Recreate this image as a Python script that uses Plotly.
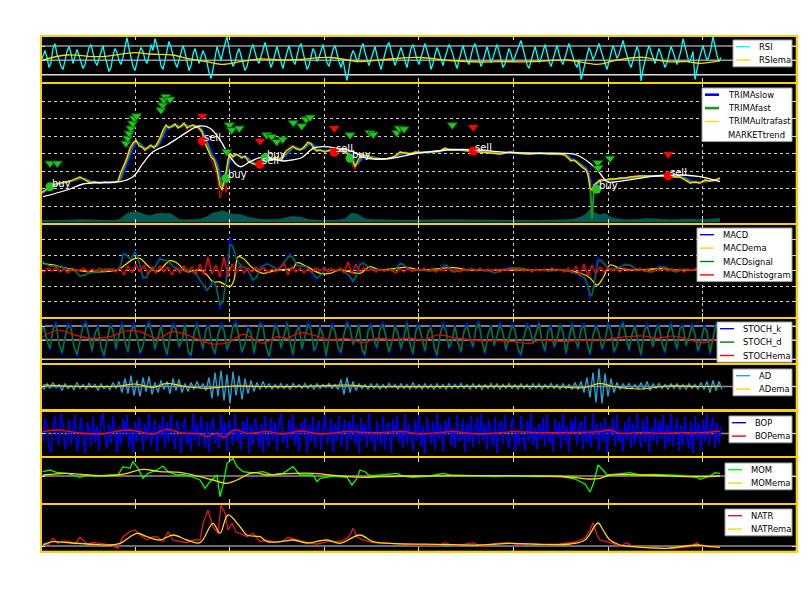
import plotly.graph_objects as go

W, H = 812, 612

# ======================= DATA =======================
# x = sample position (bar index), y = each panel's own (unlabelled) units

# ---- price panel ----
PRICE_X = [1,5,10,15,20,25,30,35,40,45,
           50,55,60,65,70,75,78,81,84,87,
           90,93,96,99,102,105,108,111,114,117,
           120,123,126,129,132,135,138,141,144,147,
           150,153,156,159,162,165,168,171,174,177,
           180,182,184,186,188,190,193,196,199,202,
           205,208,211,214,217,220,223,226,230,234,
           238,242,246,250,253,256,260,264,268,271,
           274,277,280,285,290,295,300,305,310,313,
           315,318,322,326,330,335,340,345,350,355,
           360,365,370,375,380,390,400,405,410,420,
           430,440,450,460,470,480,490,500,510,520,
           525,528,531,534,537,540,543,546,548,550,
           552,554,557,560,565,570,575,580,585,590,
           600,610,620,628,635,640,645,650,655,660,
           665,670,675,680]
TRIMA_ULTRAFAST = [29.5,32.5,35.8,38.5,39.5,40.5,41.5,43.5,45.5,42.5,
                   39.8,40.5,39.5,40.5,40,40.5,41.5,50.5,57.5,64.5,
                   74.5,79.5,82.5,76.5,75.5,72.5,75.5,77.5,74.5,78.5,
                   84.5,92.5,97.5,94.5,96.5,98.5,94.5,96.5,99.5,94.5,
                   96.5,97.5,95.5,94.5,90.5,79.5,72.5,65.5,62.5,52.5,
                   36.5,32.5,42.5,50.5,62.5,69.5,65.5,68.5,66.5,64.5,
                   66.5,61.5,59.5,58.5,57.5,59.5,62.5,65.5,62.5,64.5,
                   62.5,65.5,71.5,74.5,76.5,73.5,72.5,75.5,80.5,78.5,
                   73.5,71.5,72.5,70.5,72.5,70.5,71.5,70.5,66.5,60.5,
                   55.5,62.5,68.5,66.5,65.5,63.5,63.5,63.5,64.5,66.5,
                   70.5,69.5,68.5,70.5,70,70.5,71.5,74.5,72.5,72.5,
                   71.5,70.5,69.5,68.5,70.5,69,68.5,69.5,68.5,68.5,
                   67.5,64.5,61.5,62.5,59.5,57.5,54.5,52.5,47.5,34.5,
                   32.5,37.5,40.5,42.5,42.5,43.5,43.5,44.5,44.5,45.5,
                   46.5,46.5,46.5,46.5,45.5,45.5,42.5,39.5,40.5,39.5,
                   42.5,41.5,42.5,44.5]
TRIMA_FAST = [29,31.5,34.5,37.5,39,40,41,42.5,44.5,43.5,
              41,40,40,40,40.2,40.2,41,45,54,61,
              69.5,77,81,79.5,76,74,74,76.5,76,76.5,
              81.5,88.5,95,96,95.5,97.5,96.5,95.5,98,96.5,
              95.5,97,96.5,95,92.5,85,76,69,64,57.5,
              44.5,36,38,46.5,56.5,66,67.5,67,67.5,65.5,
              65.5,64,60.5,59,58,58.5,61,64,64,63.5,
              63.5,64,68.5,73,75.5,75,73,74,78,79.5,
              76,72.5,72,71.5,71.5,71.5,71,71,68.5,63.5,
              58,59,65.5,67.5,66,64.5,63.5,63.5,64,65.5,
              68.5,70,69,69.5,70,70.2,71,73,73.5,72.5,
              72,71,70,69,70,69.5,68.8,69,68.8,68.5,
              68,66,63,62,61,58.5,56,53.5,50,41,
              3,35,39,41.5,42.5,43,43.5,44,44.5,45,
              46,46.5,46.5,46.5,46,45.5,44,41,40,40,
              41,42,42,43.5]
TRIMA_SLOW = [28.5,30.5,33.5,36.5,38.5,39.5,40.5,42,43.5,44,
              42,40.5,40,40,40,40.2,40.8,43,50,57,
              65,73,78.5,80,77.5,75,74,75.5,76,76,
              79,85,91.5,95,95.5,96.5,97,96,97,97,
              96,96.5,96.5,95.5,93.5,88,80,72.5,66.5,61,
              50,41,37,42,51,61,66.5,67.5,67.5,66.5,
              65.5,65,62,60,58.5,58.5,60,62.5,64,63.5,
              63.5,63.5,66,71,74.5,75.5,74,74,76.5,79,
              77.5,74,72.5,72,71.5,71.5,71,71,69.5,65.5,
              61,59,62.5,66.5,66.5,65,64,63.5,63.8,65,
              67.5,69.5,69.2,69.3,69.8,70,70.8,72.5,73.5,73,
              72.3,71.2,70.3,69.4,69.8,69.5,69,69,68.9,68.6,
              68.2,67,64.5,63,61.5,59.5,57,55,52.5,46,
              38,35,37,40,42,42.8,43.3,43.8,44.3,44.8,
              45.6,46.3,46.5,46.5,46.2,45.8,44.8,42.5,41,40.3,
              40.6,41.5,41.8,43]
CLOSE = [30,33,35,39,39,41,41,44,46,42,
         39,41,39,41,40,40,42,52,58,66,
         76,80,83,76,75,71,76,78,74,80,
         86,93,98,93,97,99,94,97,100,93,
         97,98,95,93,90,77,72,64,56,48,
         24.5,31,44,29.8,64,70,64,69,66,64,
         67,61,59,58,57,60,63,66,62,65,
         62,66,72,75,77,73,73,76,81,78,
         73,71,73,70,73,70,72,70,66,55,
         53,63,69,66,65,63,64,63,65,67,
         71,69,68,71,70,71,72,75,72,73,
         71,70,70,68,71,69,68,70,68,69,
         67,64,61,63,59,57,54,52,46,31,
         31,38,41,43,42,44,43,45,44,46,
         47,46,47,46,45,46,42,39,41,39,
         43,41,43,45]
TREND_X = [3,27,43,60,80,93,103,113,127,140,153,160,170,180,190,200,210,220,228,243,
           252,262,273,283,297,313,327,340,357,373,390,407,423,440,457,473,500,523,537,550,
           560,567,577,593,610,627,643,660,680]
MARKET_TREND = [25.8,32.5,38.5,39.8,40.8,45.8,59.2,70.8,77.5,85.8,94.2,96.5,94.2,82.5,65.8,55.8,60.8,64.8,64.2,61.5,
                62.5,65,74.2,75.8,74.2,70.8,64.2,63.5,65.2,68.5,70.8,72.5,73.2,72.5,70.8,69.8,69.2,69.2,67.5,59.2,
                49.2,40.8,40.8,43.2,45.8,47.5,47.5,45.8,40.8]
VOL_X = [1,20,40,60,78,82,87,93,98,105,110,115,120,125,130,135,140,150,160,167,
         172,177,182,188,193,200,210,220,230,240,250,260,270,290,305,312,318,325,340,360,
         410,460,510,535,545,550,555,560,565,572,590,610,630,650,665,680]
VOLUME = [2.5,2.2,3,2.5,2.8,5,9,10.8,10.5,8,7,8.5,9.5,9,9.2,6,3.2,3,3.5,6,
          9.2,10.5,11.8,10,8.5,8,5,3.5,3.2,3.5,5.8,5.5,3,2.5,4,9.5,8,4,3,2.5,
          3,2.5,2.5,4,8,12.5,10,8,9,5,3,4,3,3.5,3,4.5]
WARN_X = [10,17.3,86,87.7,89.3,91,92.7,94.3,96.7,121,122.7,124,125.7,130,186.7,189.3,191.7,199.3,
          226.7,231.7,236.7,242.7,253.3,261.7,266,270,310,330,333.3,356.7,359.3,364,412.3,557.7,558.3,570]
WARN_Y = [59.2,59.2,79.2,84.2,89.2,94.2,99.2,104.2,106.5,112.5,117.5,122.5,125.8,123.2,70.8,97.5,92.5,94.2,
          87.5,85.8,80.8,83.2,99.8,96.5,103.2,105.2,87.5,89.8,88.2,89.8,94.2,93.5,97.5,59.8,54.8,64.2]
ALERT_X = [162.3,220,294.3,433.3,628.3]
ALERT_Y = [106.5,81.5,94.2,95.2,68.2]
SELL_X = [162.3,220,294.3,433.3,628.3]
SELL_Y = [81.5,58.2,70.2,71.5,46.8]
BUY_X = [10,186,225,310,556.7]
BUY_Y = [35.8,44.2,64.8,64.2,33.2]

# ---- RSI (one value every 2 bars) ----
RSI = [20,26,31,24,14,19,33,38,27,22, 15,12,21,30,35,28,18,24,32,26,
       19,13,17,27,34,37,29,20,16,23, 31,36,25,18,10,14,26,33,29,21,
       17,24,35,44,33,23,15,11,20,28, 34,30,22,18,26,37,31,43,36,24,
       16,12,21,33,40,34,25,19,14,22, 30,36,29,20,11,16,27,33,25,18,
       24,31,26,19,9,3,12,23,35,28, 21,30,38,45,34,22,15,19,28,33,
       26,17,11,15,24,32,37,30,22,18, 25,34,39,31,23,14,20,29,35,27,
       19,13,22,30,36,28,21,17,26,34, 38,30,22,12,16,25,33,29,20,24,
       31,37,28,19,15,23,32,36,27,20, 14,22,10,1,13,25,31,27,19,24,
       33,38,29,21,16,22,30,35,26,18, 12,20,29,36,39,30,23,16,21,28,
       34,27,19,14,24,33,37,29,22,17, 25,32,38,31,24,12,18,27,34,29,
       22,16,24,31,37,33,26,19,13,21, 30,36,28,21,17,25,34,38,30,23,
       15,20,29,35,27,19,24,32,37,30, 22,14,18,26,33,28,20,25,31,36,
       41,33,24,17,13,21,30,35,27,19, 23,31,37,29,20,15,22,30,36,28,
       21,17,25,33,38,31,24,18,14,22, 2,10,19,27,34,29,22,26,33,38,
       31,24,18,12,20,29,36,30,23,27, 34,41,33,25,19,14,21,28,35,29,
       0.5,12,22,29,36,31,24,18,25,33, 27,20,14,19,28,35,30,23,17,24,
       31,43,35,26,19,23,30,2,13,22, 29,36,28,21,25,33,45,34,26,20,
       24]
RSI_EMA_X = [3,27,60,95,110,133,147,167,183,200,220,243,260,290,320,350,380,410,440,460,493,527,557,577,603,627,647,660,680]
RSI_EMA = [21.5,26.5,24.8,28.8,27.5,26.5,23.2,19.8,17.2,19.8,22.5,21.5,22.2,24,20,22.5,24,21,19.5,19.8,19.8,21.5,17.2,21.5,24.2,19.8,19.8,18.2,20.8]
RSI_LEVELS = [35.5, 21.2, 6.8]

# ---- MACD ----
MACD_X = [1,5,10,15,20,25,30,35,40,45, 50,55,60,65,70,75,78,81,83,86,
          90,92,95,98,100,103,106,110,115,120, 124,127,130,133,137,140,145,150,153,157,
          160,163,167,170,173,176,180,183,185,188, 190,193,196,198,202,207,210,213,217,220,
          223,227,230,233,237,240,245,250,254,257, 260,263,267,270,273,277,280,284,290,295,
          300,305,310,313,316,320,323,327,332,340, 345,350,355,360,363,367,372,380,390,400,
          404,407,410,413,420,430,440,450,455,460, 470,480,490,500,510,520,530,535,540,545,
          548,550,552,554,556,558,561,564,567,570, 575,580,585,590,595,600,605,610,615,620,
          625,630,636,640,645,650,656,660,670,680]
MACD = [10,6,3,5,2,3,-1,0,-7,-4, -2,-3,0,1,0,1,0,8,18,14,
        10,14,20,9,3,-10,-6,0,4,13, 9,10,6,3,2,0,-2,1,-3,-6,
        -12,-15,-22,-14,-10,-18,-40,-28,-16,10, 33,20,10,6,3,0,-6,-12,-5,3,
        5,7,4,2,0,3,10,17,8,3, 5,3,3,-2,-6,-10,-4,0,1,-1,
        0,-3,-8,-13,-4,8,6,3,0,0, -1,1,0,8,5,0,-1,0,-1,0,
        6,4,-1,-2,0,1,0,-2,-3,0, 3,1,0,0,-1,0,-2,-4,-6,-10,
        -20,-29,-22,-12,5,13,8,5,2,0, 2,4,6,4,1,0,-1,-2,0,5,
        2,-1,-2,0,1,0,0,1,0,1]
MACD_SIGNAL = [9,7,4,4,3,2,0,-1,-6,-5, -3,-2,-1,1,0.5,0.5,0.5,5,15,16,
               11,12,18,12,5,-7,-8,-2,3,11, 10,9,7,4,2,1,-1,0,-2,-5,
               -10,-14,-20,-17,-11,-15,-35,-32,-20,2, 25,24,13,8,4,1,-4,-10,-7,1,
               4,6,5,3,1,2,8,15,11,5, 4,4,3,0,-4,-8,-6,-1,1,0,
               0,-2,-6,-11,-7,5,7,4,1,0, -1,0,0,6,6,2,-1,0,-1,0,
               4,5,1,-2,-1,1,0,-1,-3,-1, 2,2,0,0,-1,0,-1,-3,-5,-8,
               -16,-25,-25,-16,-2,9,10,6,3,1, 1,3,5,5,2,0,-1,-2,-1,3,
               3,0,-2,-1,1,0,0,1,0,1]
MACD_EMA_X = [3,13,27,50,77,93,100,107,117,130,137,147,160,167,173,180,190,194,198,203,
              213,223,237,253,257,267,280,290,300,320,330,340,367,380,413,430,480,520,540,550,
              557,563,570,580,600,620,640,660,680]
MACD_EMA = [6.7,5,1.7,-1.7,0,10.7,11.7,5,-1.7,9.3,7,-1.7,0,-5,-11.7,-12,-16.7,-10,13.3,11.7,
            1.7,-3.3,0,1.7,7.3,3.3,-3.3,-3.3,0,-3.3,3.3,0,2.7,0,2.3,0,0,0,-3,-8,
            -15,-8,5,1.7,0,1.5,0,0,0]
MACD_HIST = [1,-2,2,-1,3,-2,1,-3,2,-1, 0,2,-2,1,-1,2,-1,0,1,-2,
             2,-5,4,-3,6,-2,5,-4,3,-3, 4,-2,3,-5,2,-3,4,-2,3,-4,
             6,-5,13,-4,5,-7,13,-7,6,-3, 4,-3,2,-2,3,-1,2,-2,1,-2,
             3,7,-5,3,-2,2,-3,1,-2,2, -1,2,-2,1,-1,2,-3,8,-4,6,
             -2,2,-1,1,-2,1,-1,2,-1,-3, 1,-2,2,-1,1,-1,2,-1,1,-2,
             1,-1,2,-1,1,-2,1,-1,1,-1, 2,-1,1,-1,1,-2,1,-1,2,-1,
             1,-1,1,-2,1,-1,1,-1,2,-1, 1,-2,2,-3,4,-5,6,-6,5,-4,
             3,-2,2,-1,1,-2,2,-1,1,-1, 2,-1,1,-2,1,-1,2,-1,1,-1,
             1,-2,1,-1,2,-1,1,-1,2,-1,1]
MACD_LEVELS = [30.7, 15, 0, -16, -31]

# ---- STOCH ----
STOCH_K = [30,38,22,12,35,41,18,8,25,40, 36,15,6,20,38,42,28,10,30,37,
           14,5,22,39,33,12,28,41,20,9, 34,40,25,8,15,36,42,30,12,24,
           38,18,6,27,40,35,14,22,39,10, 5,30,41,26,12,35,38,16,7,28,
           40,33,11,20,37,42,24,9,18,36, 30,8,25,41,38,15,4,22,39,34,
           13,27,42,20,6,31,38,12,26,41, 35,10,18,37,28,5,24,40,32,14,
           8,29,42,36,17,25,39,11,6,33, 40,22,13,35,41,27,9,20,38,30,
           12,26,42,18,7,34,39,24,10,31, 37,15,5,28,41,33,13,22,38,19,
           9,32,40,25,14,36,42,21,8,29, 38,16,27,41,30,11,24,39,34,12,
           6,26,40,35,18,29,42,20,10,33, 37,14,23,39,31,8,27,41,24,13,
           35,40,19,7,28,38,30,12,22,41, 33,9,17,36,42,25,11,29,38,20,
           6,31,40,27,15,34,39,18,9,30, 41,24,12,36,38,16,26,40,29,10,
           20,37,33,8,25,41]
STOCH_D = [29,36,22,14,33,38,19,10,25,37, 34,16,8,21,36,39,27,12,29,35,
           16,7,22,37,32,14,27,38,21,11, 32,37,25,10,17,34,39,29,14,24,
           36,19,8,26,37,33,16,22,37,12, 7,29,38,25,14,33,36,17,9,27,
           37,32,13,21,35,39,24,11,19,34, 29,10,25,38,36,17,6,22,37,32,
           15,26,39,21,8,30,36,14,25,38, 33,12,19,35,27,7,24,37,31,16,
           10,28,39,34,18,25,37,13,8,31, 37,22,15,33,38,26,11,21,36,29,
           14,25,39,19,9,32,37,24,12,30, 35,17,7,27,38,31,15,22,36,20,
           11,31,37,25,16,34,39,21,10,28, 36,17,26,38,29,13,24,37,32,14,
           8,25,37,33,19,28,39,21,12,31, 35,16,23,37,30,10,26,38,24,15,
           33,37,20,9,27,36,29,14,22,38, 31,11,18,34,39,25,13,28,36,21,
           8,30,37,26,16,32,37,19,11,29, 38,24,14,34,36,17,25,37,28,12,
           21,35,31,10,25,38]
STOCH_EMA_X = [3,18,33,50,70,87,100,117,133,150,173,190,203,223,237,247,260,273,290,307,
               323,337,350,373,383,397,417,427,440,457,473,490,500,520,540,560,573,587,603,617,
               633,650,663,675]
STOCH_EMA = [25.8,32.5,28.2,24.2,25.8,31.5,30.8,24.2,30.8,26.5,18.5,20.5,28.2,19.2,25.8,24.2,29.8,27.5,22.5,24.2,
             19.8,24.2,23.2,24.2,21.8,27.5,24.2,23.2,21.8,21.8,20.8,19.2,22.5,21,22,22.5,24.2,25.8,26.5,24.2,
             26.5,22.5,19.8,23.2]
STOCH_LEVELS = [36.5, 22.5, 3.2]

# ---- AD ----
AD = [2,-3,3,-2,4,-1,2,-4,3,-2, 1,-3,4,-2,2,-3,3,-1,2,-4,
      3,-2,1,-3,4,-2,5,-6,8,-7, 11,-9,6,-10,9,-5,10,-8,4,-6,
      6,-3,5,-7,8,-4,7,-6,3,-5, 4,-3,5,-2,3,-4,9,-12,14,-10,
      16,-14,12,-17,15,-9,11,-13,8,-7, 6,-5,4,-3,5,-2,3,-3,2,-2,
      3,-2,2,-3,3,-1,2,-2,3,-2, 2,-3,3,-2,2,-1,3,-2,2,-3,
      7,-8,9,-6,5,-4,3,-2,2,-3, 3,-2,3,-3,2,-2,3,-1,2,-3,
      3,-2,2,-3,4,-2,2,-3,3,-2, 2,-3,3,-2,2,-3,3,-2,2,-2,
      3,-2,2,-3,3,-2,2,-3,2,-2, 3,-2,3,-3,2,-2,3,-2,2,-3,
      3,-2,2,-3,3,-2,3,-3,2,-2, 3,-2,2,-3,3,-2,2,-3,4,-3,
      5,-6,9,-11,14,-16,18,-17,13,-10, 8,-6,4,-3,3,-2,3,-2,2,-3,
      4,-3,5,-4,3,-2,3,-2,2,-3, 3,-2,3,-3,2,-3,3,-2,2,-3,
      4,-3,5,-6,6,-4,5,-3]
AD_EMA_X = [3,43,80,95,113,127,145,167,193,220,260,307,327,410,510,545,560,573,600,627,660,680]
AD_EMA = [1.5,0,0.5,2.5,-0.8,3.2,0,-1.8,0.5,0,0,1.5,0,0,0,-1,3.2,0,-2.5,0.5,0,0.5]

# ---- BOP (one value every 2 bars) ----
BOP = [12,-8,15,4,-14,-19,6,18,-3,-12, 20,9,-16,-6,14,-11,3,19,-18,-7,
       16,-2,-20,11,5,-13,17,-9,8,-17, 13,21,-5,-15,9,-10,18,2,-19,7,
       -12,15,-3,19,-14,6,-20,12,-8,16, 4,-17,10,-6,20,-12,1,14,-18,9,
       -4,17,-15,11,-9,19,-2,-16,13,6, -20,8,15,-11,3,-17,21,-7,10,-13,
       18,-1,-14,12,-19,7,16,-10,4,-15, 19,-6,11,-18,14,2,-12,20,-8,5,
       -16,13,-4,17,-20,9,-11,15,6,-14, 10,-19,18,-3,-13,16,-7,12,-17,8,
       21,-9,3,-15,14,-5,19,-12,7,-18, 11,-2,16,-20,9,-8,17,-14,4,13,
       -16,6,20,-10,-4,15,-19,10,-7,18, -13,2,14,-17,12,-6,19,-11,8,-20,
       16,-5,9,-14,21,-8,3,-18,13,-1, -12,17,-16,7,11,-19,15,-4,18,-9,
       5,-15,20,-11,10,-3,-17,14,-7,19, -13,8,-20,16,2,-10,12,-16,21,-6,
       9,-18,13,-2,17,-12,6,-15,19,-8, -4,15,-19,11,-9,18,-14,3,16,-11,
       20,-7,10,-16,14,-1,-13,17,-20,8, 12,-10,19,-5,-15,9,16,-18,4,-12,
       18,-3,-17,13,-8,21,-11,6,-16,10, -6,16,-13,19,-9,2,-18,15,-4,11,
       -15,20,-7,8,-19,14,-2,17,-12,5, 13,-16,18,-10,4,-14,21,-5,9,-17,
       11,-8,15,-20,7,-3,16,-13,19,-9, 3,-18,12,-6,17,-15,10,-11,20,-2,
       -14,14,-9,18,-19,6,-7,16,-12,13, -5,19,-16,9,-10,21,-13,2,15,-18,
       8,-11,17,-4,-15,12,-20,18,-6,10, -17,14,-8,20,-12,5,16,-14,11,-10,
       7]
BOP_EMA_X = [3,17,37,60,87,100,113,127,140,160,167,177,183,195,207,227,243,260,280,307,
             333,363,380,413,440,473,500,530,560,570,580,600,620,640,660,680]
BOP_EMA = [1.8,3.5,0.8,-0.5,3.5,1.8,-0.5,4.2,0.8,-0.5,-3.2,0.2,-3.8,3.5,0.2,1.8,-0.5,2.5,-0.5,1.8,
           0.8,1.8,-0.5,1.8,-0.5,1.8,0.8,1,1.8,3.5,0.2,1.2,0.2,0.8,0.8,2.5]

# ---- MOM ----
MOM_X = [3,10,17,27,33,40,47,53,60,70,78,83,90,93,98,103,108,117,123,128,
         137,143,150,160,165,170,177,180,183,187,193,197,203,213,223,233,243,250,253,260,
         273,277,280,293,307,312,317,320,325,330,340,357,363,373,390,403,410,425,440,455,
         473,500,520,535,545,550,554,558,563,567,580,590,600,615,627,640,657,660,670,675,680]
MOM = [4.3,6,3.5,2.7,1,-1.3,1,0,0,1,1,9.3,7.7,14.3,7.7,-2.3,2.7,6,10,4.3,
       1,1.5,0,-4,-12.3,-5.7,1,-20.7,-9,12.7,17.7,9.3,4.3,3,4.3,1,2.7,7.7,9.3,1,
       1,-5.7,-2.3,0,-1.3,-9,-2.3,6,4.3,0,1,2.7,0,-1.3,0,2.7,1,0.5,0,-0.5,
       0,-0.5,0,-3,-8,-16,-6,11,6,1,2,3.3,1,1.5,1,0.5,-1.3,-3.3,0,3.3,2.7]
MOM_EMA_X = [3,27,47,70,87,103,120,140,160,173,187,197,213,227,240,273,290,323,340,373,500,530,550,560,570,600,660,680]
MOM_EMA = [1,2.7,1,0.3,2.7,6.7,4.3,3.7,-0.7,-4,-7.3,-4,3.3,1,2,2.7,1,-1.3,-0.7,0,0,-1,-3,-2.3,1,1,-0.7,0]

# ---- NATR ----
NATR_X = [3,8,13,18,24,30,35,40,47,53,60,70,78,83,90,95,100,107,112,117,
          123,128,133,140,147,153,160,163,168,173,178,181,185,188,192,196,200,207,213,220,
          227,237,243,248,257,267,277,287,300,307,310,313,317,323,333,350,373,400,405,415,
          433,440,453,467,480,493,505,520,535,545,550,553,557,560,570,580,587,593,610,627,
          650,657,660,670,680]
NATR = [6.7,5,11.7,6.7,9,8.3,6,12.7,6,7.5,6.7,5,1.7,13.3,18.3,20,15,10,13,13.3,
        8.3,18.3,10,9,7.3,10,10,26.7,40,23.3,16.7,45,36.7,20,26.7,18,16.7,13.3,16.7,8.3,
        10,7.3,9,12.7,10,7.3,6,8.3,8.3,11.7,15,21.7,13.3,10,7.3,6.7,5,5,7.3,4,
        7.3,4,6,7.3,5,6.7,5,6,8,12,20,27,15,10,7.3,4,7.3,3.3,2.5,1.7,
        3,7.3,3.3,4,3.3]
NATR_EMA_X = [3,13,27,47,70,80,97,107,120,133,147,160,173,180,188,200,207,220,227,240,
              253,267,287,300,320,333,350,400,440,473,500,530,545,558,563,570,580,593,627,657,670,680]
NATR_EMA = [5,8.3,7.3,6,5,6.7,16.7,13.3,10,15,10,7.3,26.7,16.7,35,23.3,15,13.3,8.3,8.3,
            10,7,10,6.7,15,8.3,6.7,5.7,5,6.7,5.7,6,10,27,20,10,5,3.3,1.7,5,3.3,2.7]

X_TICKS = [95, 189.6, 284.2, 378.8, 473.4, 568, 662.6]

# ======================= STYLE / LAYOUT =======================
GOLD = '#FFD700'
FRAME = '#FFD000'
CYAN = '#00FFFF'
BLUE = '#0000FF'
GREEN = '#008000'
TGREEN = '#1e961e'
RED = '#FF0000'
LIME = '#00FF00'
CRIMSON = '#DC143C'
ADC = '#2a9fd6'
BOPC = '#0000DD'
TEAL = 'rgb(8,88,82)'
FONT = 'DejaVu Sans'

X_LEFT, X_RIGHT = 41.5, 795.5
PANEL_PX = [(36.5, 81.5), (83.5, 222.5), (224.5, 316.5), (318.5, 362.5),
            (364.5, 409.5), (411, 456), (458, 503), (505, 550.5)]
YRANGES = [[0, 45], [0, 139], [-46.5, 45.5], [0, 44], [-23, 22], [-22.5, 22.5], [-27, 18], [-0.5, 45]]
YTICKS = [RSI_LEVELS, [16.5, 34, 51.5, 69, 86.5, 104, 121.5], MACD_LEVELS, STOCH_LEVELS, [0], [0], [0], [4]]
X_RANGE = [1.5, 755.5]


def px_x(p):
    return p / W


def px_y(p):
    return 1 - p / H


def sfx(k):
    return '' if k == 1 else str(k)


def grid_x(vals, start=1, step=3):
    return [start + step * i for i in range(len(vals))]


fig = go.Figure()


def add(tr, k):
    tr.update(xaxis='x' + sfx(k), yaxis='y' + sfx(k), showlegend=False)
    fig.add_trace(tr)


def line(x, y, name, color, width=1.2, shape='linear'):
    return go.Scatter(x=x, y=y, name=name, mode='lines',
                      line=dict(color=color, width=width, shape=shape), hoverinfo='skip')


# panel 1 RSI
add(line(grid_x(RSI, 1, 2), RSI, 'RSI', CYAN, 1.3), 1)
add(line(RSI_EMA_X, RSI_EMA, 'RSIema', GOLD, 1.3, 'spline'), 1)

# panel 2 price
add(go.Scatter(x=VOL_X, y=VOLUME, mode='lines', fill='tozeroy', fillcolor=TEAL,
               line=dict(color=TEAL, width=0.5, shape='spline'), name='volume'), 2)
add(line(PRICE_X, CLOSE, 'close', RED, 1.0), 2)
add(line(PRICE_X, TRIMA_SLOW, 'TRIMAslow', BLUE, 2.2), 2)
add(line(PRICE_X, TRIMA_FAST, 'TRIMAfast', TGREEN, 2.0), 2)
add(line(PRICE_X, TRIMA_ULTRAFAST, 'TRIMAultrafast', GOLD, 1.3), 2)
add(line(TREND_X, MARKET_TREND, 'MARKETtrend', 'white', 1.3, 'spline'), 2)
add(go.Scatter(x=WARN_X, y=WARN_Y, mode='markers', name='warn',
               marker=dict(symbol='triangle-down', size=9, color='#22c322',
                           line=dict(color='#0b5e0b', width=1))), 2)
add(go.Scatter(x=ALERT_X, y=ALERT_Y, mode='markers', name='alert',
               marker=dict(symbol='triangle-down', size=9, color=RED, line=dict(width=0))), 2)
add(go.Scatter(x=SELL_X, y=SELL_Y, mode='markers', name='sell',
               marker=dict(symbol='circle', size=9, color=RED, line=dict(width=0))), 2)
add(go.Scatter(x=BUY_X, y=BUY_Y, mode='markers', name='buy',
               marker=dict(symbol='circle', size=9, color='#22c322', line=dict(width=0))), 2)

# panel 3 MACD
add(line(MACD_X, MACD, 'MACD', BLUE, 1.3), 3)
add(line(MACD_EMA_X, MACD_EMA, 'MACDema', GOLD, 1.3, 'spline'), 3)
add(line(MACD_X, MACD_SIGNAL, 'MACDsignal', GREEN, 1.3), 3)
add(line(grid_x(MACD_HIST, 0, 4), MACD_HIST, 'MACDhistogram', RED, 1.4), 3)

# panel 4 STOCH
add(line(grid_x(STOCH_K), STOCH_K, 'STOCH_k', BLUE, 1.8), 4)
add(line(grid_x(STOCH_D), STOCH_D, 'STOCH_d', GREEN, 1.5), 4)
add(line(STOCH_EMA_X, STOCH_EMA, 'STOCHema', RED, 1.2, 'spline'), 4)

# panel 5 AD
add(line(grid_x(AD), AD, 'AD', ADC, 1.4), 5)
add(line(AD_EMA_X, AD_EMA, 'ADema', GOLD, 1.2, 'spline'), 5)

# panel 6 BOP
add(line(grid_x(BOP, 1, 2), BOP, 'BOP', BOPC, 1.8), 6)
add(line(BOP_EMA_X, BOP_EMA, 'BOPema', RED, 1.3, 'spline'), 6)

# panel 7 MOM
add(line(MOM_X, MOM, 'MOM', LIME, 1.3), 7)
add(line(MOM_EMA_X, MOM_EMA, 'MOMema', GOLD, 1.3, 'spline'), 7)

# panel 8 NATR
add(line(NATR_X, NATR, 'NATR', CRIMSON, 1.3), 8)
add(line(NATR_EMA_X, NATR_EMA, 'NATRema', GOLD, 1.3, 'spline'), 8)

layout = dict(width=W, height=H, margin=dict(l=0, r=0, t=0, b=0, pad=0),
              paper_bgcolor='white', plot_bgcolor='black', showlegend=False,
              font=dict(family=FONT), shapes=[], annotations=[])

for k in range(1, 9):
    top, bot = PANEL_PX[k - 1]
    grid = k in (2, 3)
    common = dict(showline=True, linecolor=FRAME, linewidth=1.5, mirror='ticks',
                  ticks='inside', ticklen=4, tickwidth=1, tickcolor='#d8d8d8',
                  showticklabels=False, zeroline=False, fixedrange=True,
                  showgrid=grid, gridcolor='#d0d0d0', gridwidth=1, griddash='dot')
    layout['xaxis' + sfx(k)] = dict(common, domain=[px_x(X_LEFT), px_x(X_RIGHT)], anchor='y' + sfx(k),
                                    range=X_RANGE, tickmode='array', tickvals=X_TICKS)
    layout['yaxis' + sfx(k)] = dict(common, domain=[px_y(bot), px_y(top)], anchor='x' + sfx(k),
                                    range=YRANGES[k - 1], tickmode='array', tickvals=YTICKS[k - 1])

shapes = layout['shapes']
# black backdrop behind all panels
shapes.append(dict(type='rect', xref='paper', yref='paper', layer='below',
                   x0=px_x(X_LEFT), x1=px_x(X_RIGHT), y0=px_y(550.5), y1=px_y(36.5),
                   fillcolor='black', line=dict(width=0)))


def hline(k, v, color, width=1.5):
    shapes.append(dict(type='line', xref='x' + sfx(k) + ' domain', yref='y' + sfx(k),
                       x0=0, x1=1, y0=v, y1=v, layer='below', line=dict(color=color, width=width)))


for v, c in zip(RSI_LEVELS, ['#9a9a9a', '#9a9a9a', '#dcdcdc']):
    hline(1, v, c)
for v, c in zip(STOCH_LEVELS, ['#a8a8a8', '#a0a0a0', '#c8c8c8']):
    hline(4, v, c)
hline(5, 0, '#909090')
hline(6, 0, '#909090')
hline(7, 0, '#909090')
hline(8, 4, '#909090')

# buy / sell labels
for xs, ys, lab in ((SELL_X, SELL_Y, 'sell'), (BUY_X, BUY_Y, 'buy')):
    for xv, yv in zip(xs, ys):
        layout['annotations'].append(dict(x=xv, y=yv, xref='x2', yref='y2', text=lab, showarrow=False,
                                          xanchor='left', yanchor='bottom', xshift=0, yshift=-4,
                                          font=dict(color='white', size=10, family=FONT)))

# legends (one per panel, upper right), built from the traces' names / colours
trace_by_name = {t.name: t for t in fig.data}
LEGENDS = [
    (733, 40, ['RSI', 'RSIema']),
    (702, 88, ['TRIMAslow', 'TRIMAfast', 'TRIMAultrafast', 'MARKETtrend']),
    (697, 228, ['MACD', 'MACDema', 'MACDsignal', 'MACDhistogram']),
    (717, 322, ['STOCH_k', 'STOCH_d', 'STOCHema']),
    (733, 369, ['AD', 'ADema']),
    (729, 416, ['BOP', 'BOPema']),
    (725, 463, ['MOM', 'MOMema']),
    (725, 509, ['NATR', 'NATRema']),
]
LEG_RIGHT = 792
ROW = 13.4
for left, top, names in LEGENDS:
    shapes.append(dict(type='rect', xref='paper', yref='paper', layer='above',
                       x0=px_x(left), x1=px_x(LEG_RIGHT), y0=px_y(top + ROW * len(names)), y1=px_y(top),
                       fillcolor='white', line=dict(color='#a0a0a0', width=1)))
    for i, nm in enumerate(names):
        tr = trace_by_name[nm]
        yc = top + 6.7 + ROW * i
        lw = 2.6 if nm in ('TRIMAslow', 'TRIMAfast') else 1.4
        shapes.append(dict(type='line', xref='paper', yref='paper', layer='above',
                           x0=px_x(left + 3), x1=px_x(left + 17), y0=px_y(yc), y1=px_y(yc),
                           line=dict(color=tr.line.color, width=lw)))
        layout['annotations'].append(dict(x=px_x(left + 24), y=px_y(yc), xref='paper', yref='paper',
                                          text=nm, showarrow=False, xanchor='left', yanchor='middle',
                                          font=dict(color='black', size=8.4, family=FONT)))

fig.update_layout(**layout)
fig.write_html('out.html')
